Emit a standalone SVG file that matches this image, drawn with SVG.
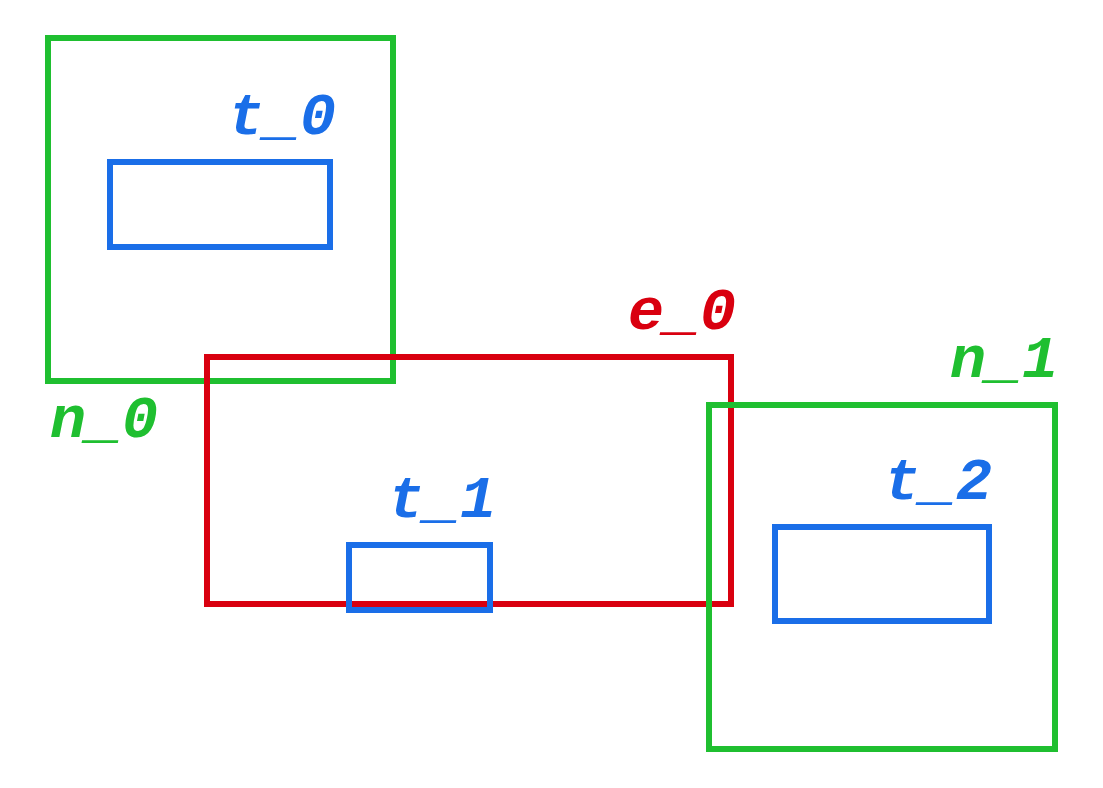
<svg xmlns="http://www.w3.org/2000/svg" width="1103" height="788" viewBox="0 0 1103 788">
<style>
rect{fill:none;stroke-width:6}
.g{stroke:#1fbf30}.b{stroke:#1a6ee8}.r{stroke:#d9000f}
text{font-family:"Liberation Mono","DejaVu Sans Mono",monospace;font-weight:bold;font-style:italic;font-size:60px}
.tg{fill:#1fbf30}.tb{fill:#1a6ee8}.tr{fill:#d9000f}
</style>
<rect width="1103" height="788" fill="#fff" style="stroke:none;fill:#fff"/>
<g id="n_0"><rect class="g" x="48" y="38" width="345" height="343"/><text class="tg" x="50" y="437">n_0</text></g>
<g id="t_0"><rect class="b" x="110" y="162" width="220" height="85"/><text class="tb" x="336" y="134" text-anchor="end">t_0</text></g>
<g id="e_0"><rect class="r" x="207" y="357" width="524" height="247"/><text class="tr" x="736" y="329" text-anchor="end">e_0</text></g>
<g id="t_1"><rect class="b" x="349" y="545" width="141" height="65"/><text class="tb" x="496" y="517" text-anchor="end">t_1</text></g>
<g id="n_1"><rect class="g" x="709" y="405" width="346" height="344"/><text class="tg" x="1058" y="377" text-anchor="end">n_1</text></g>
<g id="t_2"><rect class="b" x="775" y="527" width="214" height="94"/><text class="tb" x="992" y="499" text-anchor="end">t_2</text></g>
<g id="connectors"/>
</svg>
